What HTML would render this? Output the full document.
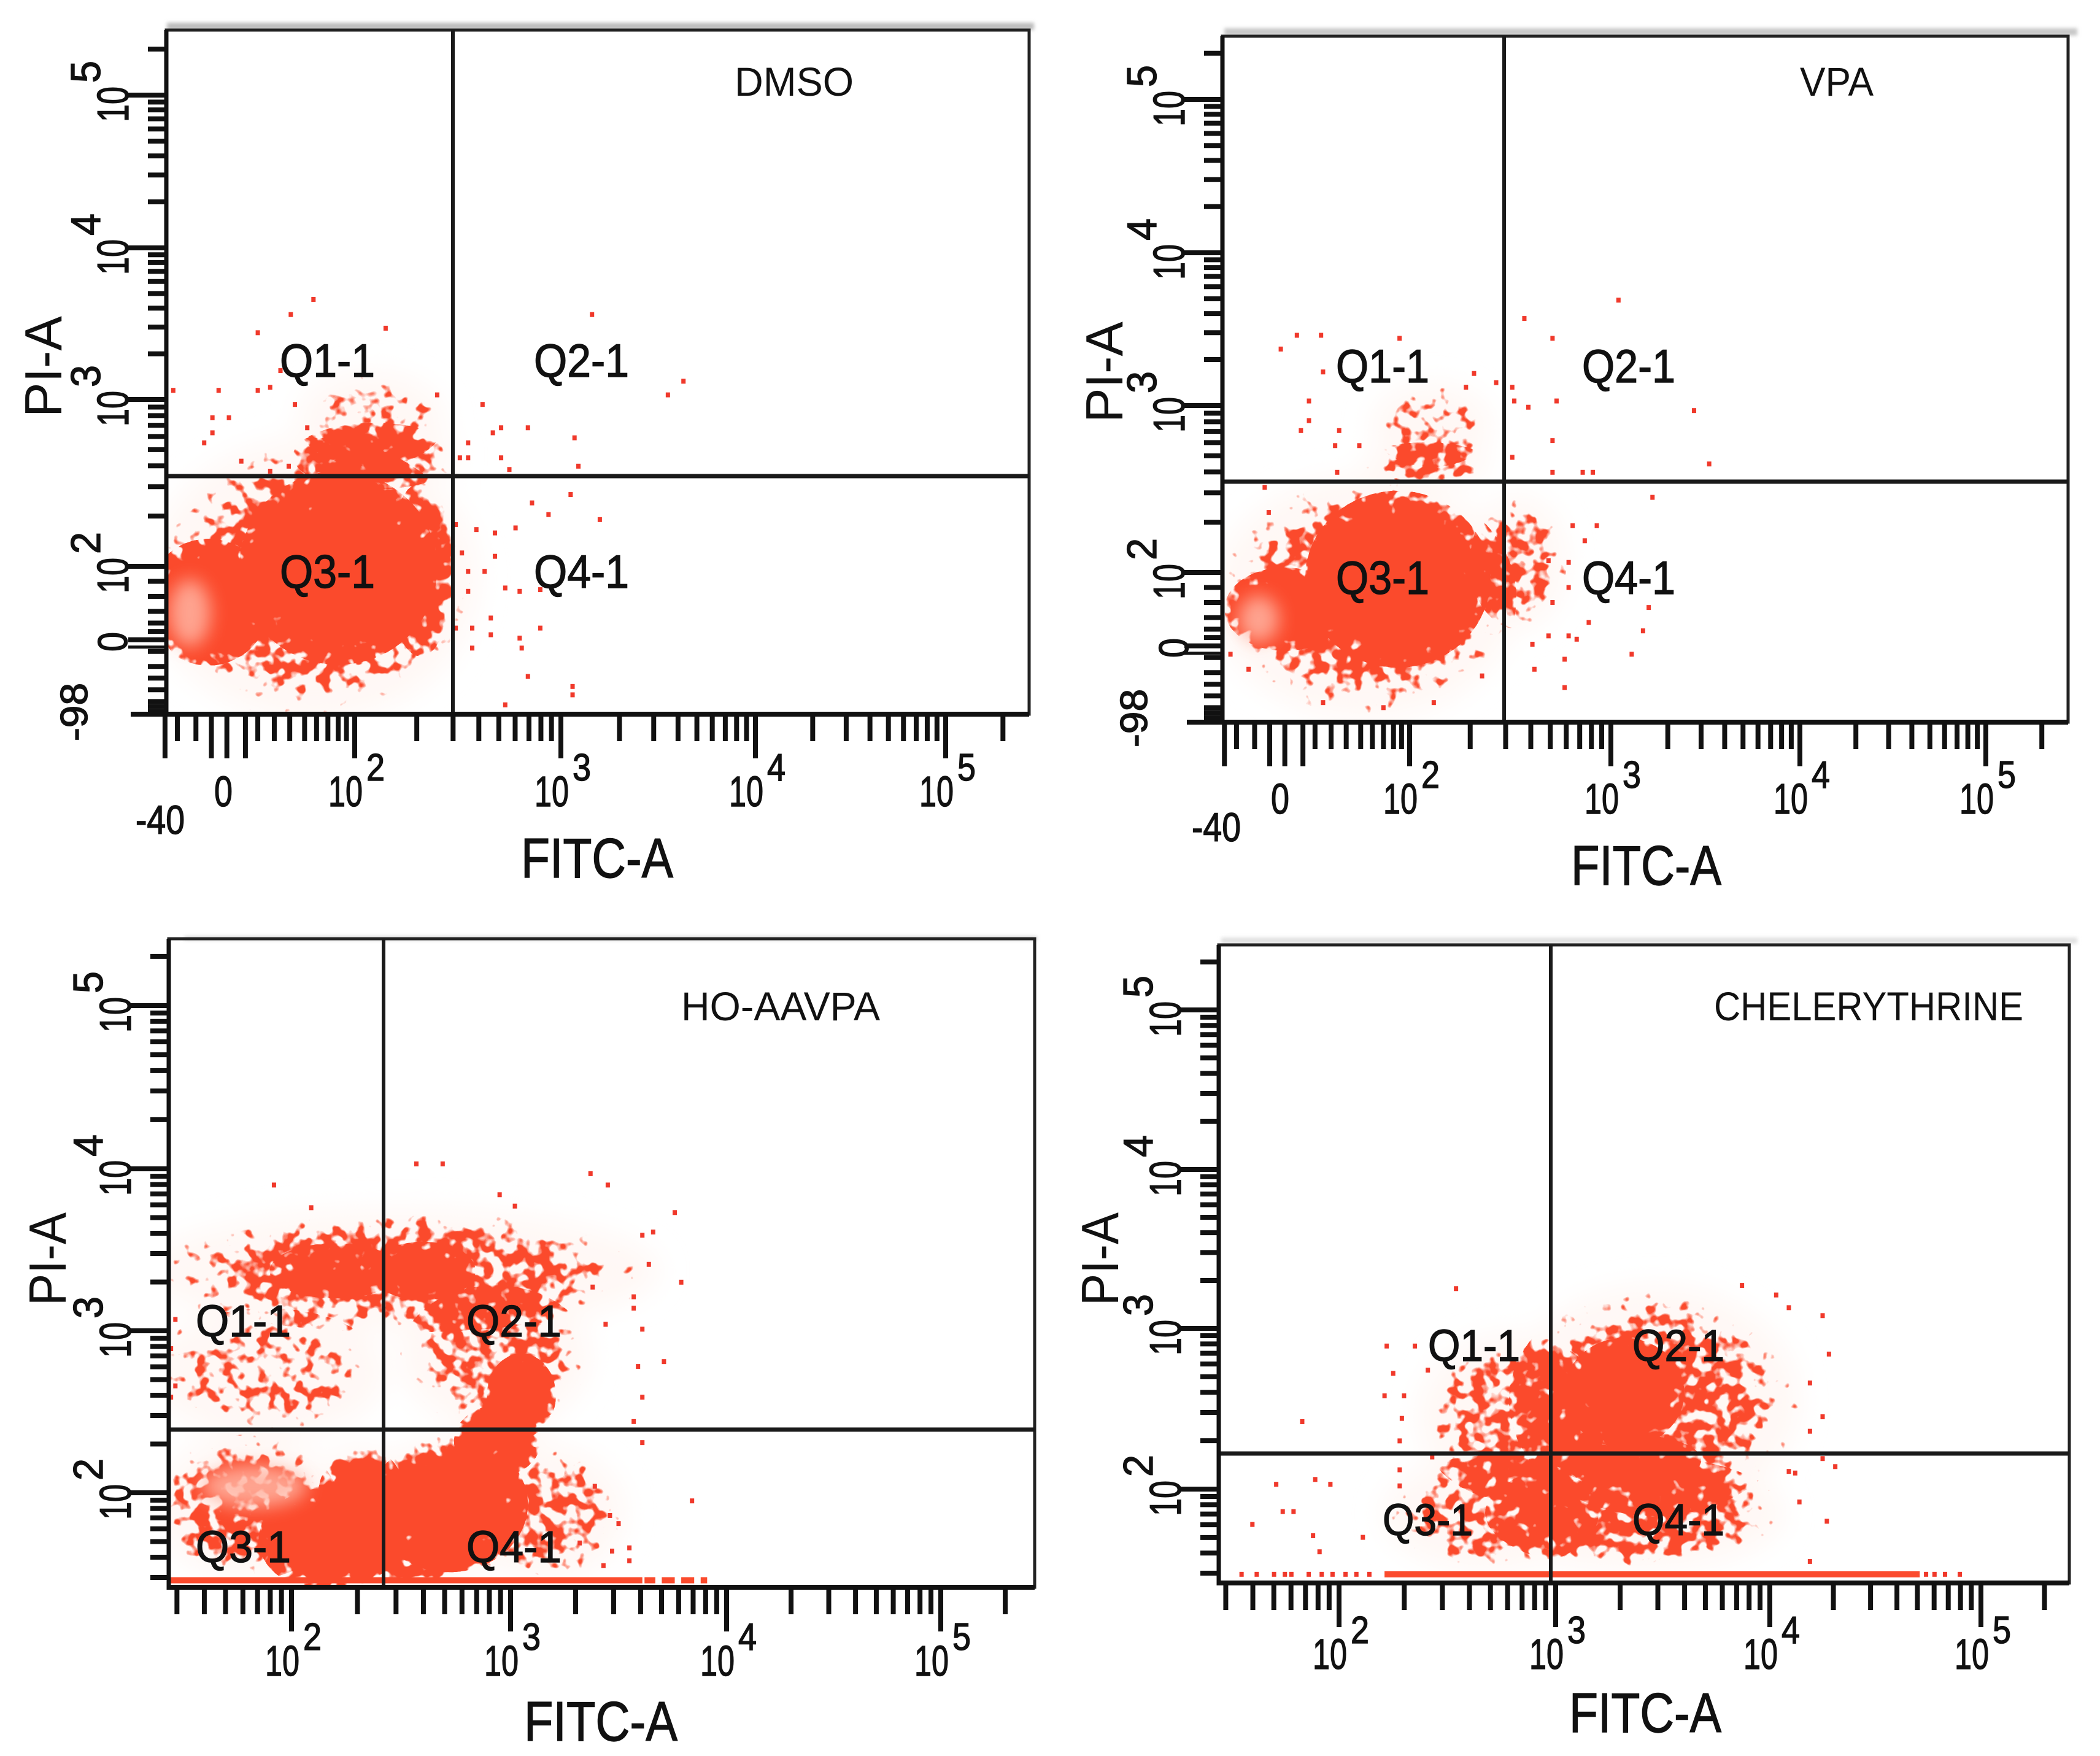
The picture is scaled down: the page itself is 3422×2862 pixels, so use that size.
<!DOCTYPE html>
<html lang="en">
<head>
<meta charset="utf-8">
<title>Flow cytometry Annexin V-FITC / PI dot plots</title>
<style>
html,body{margin:0;padding:0;background:#fff;}
svg{display:block;}
text{font-family:"Liberation Sans",sans-serif;fill:#111;}
.heavy{stroke:#111;stroke-width:1.4px;}
</style>
</head>
<body>
<svg xmlns="http://www.w3.org/2000/svg" width="3422" height="2862" viewBox="0 0 3422 2862">
<defs>
  <radialGradient id="densityFill"><stop offset="0" stop-color="#000" stop-opacity="1"/><stop offset=".6" stop-color="#000" stop-opacity="1"/><stop offset="1" stop-color="#000" stop-opacity=".35"/></radialGradient>
  <filter id="speckle" filterUnits="userSpaceOnUse" x="0" y="0" width="3422" height="2862" color-interpolation-filters="sRGB">
    <feTurbulence type="fractalNoise" baseFrequency="0.05" numOctaves="2" seed="7" result="noise"/>
    <feColorMatrix in="noise" type="matrix" values="0 0 0 0 0  0 0 0 0 0  0 0 0 0 0  1 0 0 0 0" result="noiseAlpha"/>
    <feComposite in="SourceAlpha" in2="noiseAlpha" operator="arithmetic" k1="0" k2="0.6" k3="0.6" k4="0" result="sum"/>
    <feComponentTransfer in="sum" result="mask"><feFuncA type="linear" slope="14" intercept="-8.3"/></feComponentTransfer>
    <feFlood flood-color="#fb4a2c"/>
    <feComposite in2="mask" operator="in"/>
  </filter>
  <filter id="softPatch" filterUnits="userSpaceOnUse" x="0" y="0" width="3422" height="2862"><feGaussianBlur stdDeviation="14"/></filter>
  <filter id="hazeBlur" filterUnits="userSpaceOnUse" x="0" y="0" width="3422" height="2862"><feGaussianBlur stdDeviation="22"/></filter>
  <filter id="bandBlur" filterUnits="userSpaceOnUse" x="0" y="0" width="3422" height="2862"><feGaussianBlur stdDeviation="3"/></filter>
</defs>

<g id="panel-dmso"></g>
<g id="panel-vpa"></g>
<g id="panel-ho"></g>
<g id="panel-che"></g>

<!-- panel titles -->
<text x="1197" y="156" font-size="66" textLength="194" lengthAdjust="spacingAndGlyphs">DMSO</text>
<text x="2933" y="156" font-size="66" textLength="120" lengthAdjust="spacingAndGlyphs">VPA</text>
<text x="1110" y="1663" font-size="66" textLength="324" lengthAdjust="spacingAndGlyphs">HO-AAVPA</text>
<text x="2793" y="1663" font-size="66" textLength="504" lengthAdjust="spacingAndGlyphs">CHELERYTHRINE</text>

<!-- quadrant labels -->
<g font-size="76" class="heavy">
<text x="456" y="614" textLength="155" lengthAdjust="spacingAndGlyphs">Q1-1</text>
<text x="870" y="614" textLength="155" lengthAdjust="spacingAndGlyphs">Q2-1</text>
<text x="456" y="958" textLength="155" lengthAdjust="spacingAndGlyphs">Q3-1</text>
<text x="870" y="958" textLength="155" lengthAdjust="spacingAndGlyphs">Q4-1</text>
</g>
<g font-size="76" class="heavy">
<text x="2177" y="623" textLength="152" lengthAdjust="spacingAndGlyphs">Q1-1</text>
<text x="2578" y="623" textLength="152" lengthAdjust="spacingAndGlyphs">Q2-1</text>
<text x="2177" y="968" textLength="152" lengthAdjust="spacingAndGlyphs">Q3-1</text>
<text x="2578" y="968" textLength="152" lengthAdjust="spacingAndGlyphs">Q4-1</text>
</g>
<g font-size="72" class="heavy">
<text x="319" y="2178" textLength="155" lengthAdjust="spacingAndGlyphs">Q1-1</text>
<text x="760" y="2178" textLength="155" lengthAdjust="spacingAndGlyphs">Q2-1</text>
<text x="319" y="2546" textLength="155" lengthAdjust="spacingAndGlyphs">Q3-1</text>
<text x="760" y="2546" textLength="155" lengthAdjust="spacingAndGlyphs">Q4-1</text>
</g>
<g font-size="72" class="heavy">
<text x="2327" y="2218" textLength="150" lengthAdjust="spacingAndGlyphs">Q1-1</text>
<text x="2660" y="2218" textLength="150" lengthAdjust="spacingAndGlyphs">Q2-1</text>
<text x="2253" y="2502" textLength="147" lengthAdjust="spacingAndGlyphs">Q3-1</text>
<text x="2660" y="2502" textLength="150" lengthAdjust="spacingAndGlyphs">Q4-1</text>
</g>

<!-- axis titles -->
<g font-size="91" class="heavy">
<text x="849" y="1430" textLength="248" lengthAdjust="spacingAndGlyphs">FITC-A</text>
<text x="2560" y="1442" textLength="245" lengthAdjust="spacingAndGlyphs">FITC-A</text>
<text x="854" y="2837" textLength="250" lengthAdjust="spacingAndGlyphs">FITC-A</text>
<text x="2557" y="2823" textLength="248" lengthAdjust="spacingAndGlyphs">FITC-A</text>
</g>
<g font-size="85">
<text transform="translate(100,680) rotate(-90)" textLength="165" lengthAdjust="spacingAndGlyphs">PI-A</text>
<text transform="translate(1829,689) rotate(-90)" textLength="165" lengthAdjust="spacingAndGlyphs">PI-A</text>
<text transform="translate(107,2128) rotate(-90)" textLength="152" lengthAdjust="spacingAndGlyphs">PI-A</text>
<text transform="translate(1822,2128) rotate(-90)" textLength="152" lengthAdjust="spacingAndGlyphs">PI-A</text>
</g>

<!-- biexponential low-end labels -->
<g class="heavy">
<text transform="translate(142,1208) rotate(-90)" font-size="62" textLength="95" lengthAdjust="spacingAndGlyphs">-98</text>
<text x="221" y="1359" font-size="66" textLength="80" lengthAdjust="spacingAndGlyphs">-40</text>
<text x="349" y="1314" font-size="70" textLength="30" lengthAdjust="spacingAndGlyphs">0</text>
<text transform="translate(207,1062) rotate(-90)" font-size="68" textLength="32" lengthAdjust="spacingAndGlyphs">0</text>
<text transform="translate(1869,1218) rotate(-90)" font-size="62" textLength="95" lengthAdjust="spacingAndGlyphs">-98</text>
<text x="1942" y="1371" font-size="66" textLength="80" lengthAdjust="spacingAndGlyphs">-40</text>
<text x="2071" y="1326" font-size="70" textLength="30" lengthAdjust="spacingAndGlyphs">0</text>
<text transform="translate(1936,1072) rotate(-90)" font-size="68" textLength="32" lengthAdjust="spacingAndGlyphs">0</text>
</g>

<script>
// ---- shared axis values (in log10 display units) ----
const logMultiples = [1, 2, 3, 4, 5, 6, 7, 8, 9];
const xDecadeLabels = ['10', '10', '10', '10'];
const xDecadeExponents = ['2', '3', '4', '5'];
const yDecadeLabels = ['10', '10', '10', '10'];
const yDecadeExponents = ['2', '3', '4', '5'];
const biexXTicks = [1.08, 1.14, 1.23, 1.305, 1.38, 1.47, 1.53, 1.61, 1.685, 1.757, 1.815, 1.87, 1.92, 1.96];
const biexXLongTicks = [1.08, 1.305, 1.38, 1.47];
const biexYTicks = [1.91, 1.82, 1.73, 1.66, 1.61, 1.56, 1.49, 1.40, 1.33, 1.26, 1.19, 1.16, 1.13];

// population density regions: x decade, y decade, x spread, y spread, density level
// ---- DMSO ----
const dmsoDensity = [[1.80, 1.92, 0.80, 0.85, 0.6], [2.08, 2.88, 0.36, 0.30, 0.47], [2.10, 2.66, 0.40, 0.20, 0.6], [2.32, 1.98, 0.16, 0.52, 0.6], [1.92, 1.99, 0.48, 0.58, 1], [1.29, 1.785, 0.30, 0.38, 1]];
const dmsoPale = [[1.2, 1.72, 0.10, 0.2]];
const dmsoPoints = [[1.80,3.66],[1.69,3.56],[1.53,3.44],[2.15,3.47],[3.16,3.56],[3.63,3.12],[3.55,3.03],[2.62,2.97],[2.71,2.83],[2.67,2.80],[2.84,2.83],[3.07,2.77],[2.55,2.74],[2.51,2.65],[2.55,2.65],[2.71,2.65],[2.75,2.58],[3.09,2.60],[3.05,2.43],[2.86,2.38],[2.94,2.31],[3.20,2.28],[2.78,2.23],[2.68,2.20],[2.59,2.22],[2.49,2.25],[2.68,2.06],[2.63,1.97],[2.55,1.97],[2.52,2.08],[2.55,1.85],[2.73,1.87],[2.80,1.85],[2.90,1.86],[2.66,1.69],[2.57,1.63],[2.49,1.63],[2.66,1.59],[2.90,1.63],[2.80,1.57],[2.81,1.51],[2.57,1.51],[2.84,1.34],[3.06,1.28],[3.06,1.23],[2.73,1.17],[1.12,3.06],[1.34,3.06],[1.53,3.06],[1.31,2.89],[1.39,2.89],[1.31,2.80],[1.27,2.74],[1.45,2.63],[1.59,3.08],[1.64,3.19],[1.71,2.97],[1.77,2.83],[1.59,2.57],[1.68,2.60],[2.40,3.03]];
const dmsoFloor = [];

// ---- VPA ----
const vpaDensity = [[1.78, 1.85, 0.75, 0.73, 0.6], [2.54, 2.06, 0.24, 0.40, 0.55], [2.11, 2.88, 0.30, 0.26, 0.47], [2.08, 2.65, 0.32, 0.13, 0.56], [1.94, 1.96, 0.46, 0.53, 1], [1.38, 1.78, 0.30, 0.25, 0.85]];
const vpaPale = [[1.25, 1.72, 0.10, 0.14]];
const vpaPoints = [[3.04,3.69],[2.57,3.57],[2.71,3.44],[1.44,3.46],[1.56,3.46],[1.36,3.37],[1.95,3.44],[1.57,3.22],[2.32,3.21],[2.28,3.12],[2.43,3.15],[2.51,3.12],[2.52,3.03],[2.59,2.99],[2.73,3.03],[1.50,3.03],[3.44,2.97],[1.50,2.91],[1.46,2.85],[1.65,2.85],[2.71,2.79],[1.63,2.76],[1.75,2.76],[3.52,2.65],[2.51,2.69],[2.71,2.60],[2.86,2.60],[2.91,2.60],[1.64,2.60],[3.22,2.45],[2.93,2.28],[2.81,2.28],[2.87,2.19],[2.69,2.07],[2.79,2.06],[2.79,1.91],[3.20,1.79],[2.71,1.82],[2.89,1.70],[3.17,1.65],[2.69,1.62],[2.79,1.62],[2.83,1.60],[2.61,1.57],[3.11,1.51],[2.77,1.48],[2.62,1.42],[2.77,1.31],[2.12,1.22],[1.57,1.22],[1.87,1.19],[1.20,1.42],[1.11,1.51],[1.28,2.51],[1.30,2.36],[2.36,1.38]];
const vpaFloor = [];

// ---- HO-AAVPA ----
const hoDensity = [[2.5, 3.37, 1.19, 0.38, 0.58], [1.89, 2.74, 0.54, 0.40, 0.48], [2.93, 2.84, 0.44, 0.44, 0.56], [1.8, 1.91, 0.42, 0.45, 0.62], [3.17, 1.87, 0.36, 0.42, 0.55], [2.56, 1.61, 0.38, 0.17, 0.7], [2.2, 3.37, 0.30, 0.17, 0.6], [2.6, 3.37, 0.24, 0.18, 0.78], [3.05, 2.6, 0.16, 0.26, 0.82], [2.94, 2.32, 0.20, 0.22, 0.95], [2.32, 1.97, 0.20, 0.32, 0.9], [2.17, 1.71, 0.32, 0.32, 1], [2.72, 1.93, 0.36, 0.42, 1]];
const hoPale = [[1.83, 2.04, 0.24, 0.13]];
const hoPoints = [[1.92,3.90],[2.57,4.03],[2.69,4.03],[3.37,3.97],[3.45,3.90],[3.76,3.73],[2.09,3.76],[2.95,3.84],[3.02,3.77],[3.66,3.61],[3.61,3.59],[3.79,3.30],[3.64,3.41],[3.57,3.21],[3.61,3.01],[3.71,2.81],[3.59,2.78],[3.61,2.59],[3.57,2.44],[3.61,2.31],[3.84,1.95],[3.55,1.66],[3.47,1.64],[3.55,1.58],[3.43,1.55],[3.38,3.27],[3.44,3.04],[3.57,3.14],[3.50,1.81],[3.46,1.86],[3.32,1.69],[3.39,2.04],[1.45,2.59],[1.47,2.66],[1.47,3.07],[1.45,2.89]];
const hoFloor = [[1.44, 3.61, 1.46], [3.62, 3.67, 1.46], [3.70, 3.76, 1.46], [3.79, 3.85, 1.46], [3.88, 3.91, 1.46]];

// ---- Chelerythrine ----
const cheDensity = [[3.46, 2.55, 0.68, 0.72, 0.6], [2.8, 2.45, 0.44, 0.52, 0.55], [3.37, 1.85, 0.70, 0.36, 0.62], [2.7, 1.85, 0.50, 0.36, 0.54], [3.34, 2.18, 0.34, 0.16, 0.62], [3.32, 2.6, 0.28, 0.34, 0.88]];
const chePale = [];
const chePoints = [[2.54,3.25],[2.22,2.89],[2.35,2.89],[2.41,2.74],[2.25,2.72],[2.21,2.58],[2.30,2.58],[2.29,2.44],[2.28,2.30],[1.83,2.42],[1.71,2.03],[1.89,2.06],[1.96,2.03],[1.60,1.78],[1.74,1.86],[1.79,1.86],[1.88,1.71],[1.91,1.61],[2.11,1.70],[4.25,3.08],[4.09,3.13],[4.03,3.21],[3.87,3.27],[4.28,2.84],[4.19,2.66],[4.25,2.45],[4.19,2.36],[4.25,2.19],[4.31,2.14],[4.27,1.80],[4.14,1.92],[4.19,1.55],[4.09,2.11],[4.12,2.10],[2.28,2.12],[2.43,2.20],[2.28,2.02],[1.55,1.47],[1.62,1.47],[1.70,1.47],[1.75,1.47],[1.78,1.47],[1.86,1.47],[1.92,1.47],[1.97,1.47],[2.03,1.47],[2.08,1.47],[2.14,1.47],[4.74,1.47],[4.78,1.47],[4.83,1.47],[4.90,1.47]];
const cheFloor = [[2.21, 4.71, 1.47]];

// ---- layout of each plot frame (pixels) ----
const SVGNS = 'http://www.w3.org/2000/svg';
const frames = [
  {id:'panel-dmso', key:'dmso', left:271, right:1677, top:49, bottom:1164, gateX:738, gateY:776, xA:[578,914,1231,1541], yA:[923,651,404,155], biex:true, labelDrop:150, band:[272,1685,37,12,'#bdbdbd'], baseExtend:58,
   density:dmsoDensity, pale:dmsoPale, pts:dmsoPoints, floor:dmsoFloor},
  {id:'panel-vpa', key:'vpa', left:1992, right:3370, top:59, bottom:1177, gateX:2451, gateY:785, xA:[2297,2625,2933,3236], yA:[933,661,412,162], biex:true, labelDrop:149, band:[1995,3385,46,12,'#c8c8c8'], baseExtend:58,
   density:vpaDensity, pale:vpaPale, pts:vpaPoints, floor:vpaFloor},
  {id:'panel-ho', key:'ho', left:275, right:1686, top:1530, bottom:2587, gateX:625, gateY:2330, xA:[475,832,1184,1533], yA:[2433,2169,1905,1639], biex:false, labelDrop:144, band:[300,1690,1526,6,'#d2d2d2'], baseExtend:0,
   density:hoDensity, pale:hoPale, pts:hoPoints, floor:hoFloor},
  {id:'panel-che', key:'che', left:1986, right:3372, top:1540, bottom:2580, gateX:2527, gateY:2369, xA:[2182,2535,2884,3228], yA:[2427,2165,1906,1646], biex:false, labelDrop:140, band:[1990,3385,1528,10,'#e0e0e0'], baseExtend:0,
   density:cheDensity, pale:chePale, pts:chePoints, floor:cheFloor}
];

function axisMap(anchors, d) {
  const i = Math.max(0, Math.min(2, Math.floor(d) - 2));
  return anchors[i] + (d - (i + 2)) * (anchors[i + 1] - anchors[i]);
}
function mk(tag, parent) {
  const el = document.createElementNS(SVGNS, tag);
  parent.appendChild(el);
  return el;
}
function blob(parent, f, b, fill) {
  const cx = axisMap(f.xA, b[0]);
  const cy = axisMap(f.yA, b[1]);
  const el = mk('ellipse', parent);
  el.setAttribute('cx', cx);
  el.setAttribute('cy', cy);
  el.setAttribute('rx', Math.abs(axisMap(f.xA, b[0] + b[2]) - cx));
  el.setAttribute('ry', Math.abs(axisMap(f.yA, b[1] + b[3]) - cy));
  el.setAttribute('fill', fill);
  return el;
}
function line(parent, x1, y1, x2, y2, w, color) {
  const el = mk('line', parent);
  el.setAttribute('x1', x1);
  el.setAttribute('y1', y1);
  el.setAttribute('x2', x2);
  el.setAttribute('y2', y2);
  el.setAttribute('stroke', color || '#111');
  el.setAttribute('stroke-width', w);
  return el;
}
function label(parent, str, x, y, size, len, rotated) {
  const el = mk('text', parent);
  el.textContent = str;
  el.setAttribute('class', 'heavy');
  el.setAttribute('font-size', size);
  el.setAttribute('textLength', len);
  el.setAttribute('lengthAdjust', 'spacingAndGlyphs');
  if (rotated) {
    el.setAttribute('transform', 'translate(' + x + ',' + y + ') rotate(-90)');
  } else {
    el.setAttribute('x', x);
    el.setAttribute('y', y);
  }
  return el;
}

frames.forEach(function (f) {
  const g = document.getElementById(f.id);
  const w = f.right - f.left;
  const h = f.bottom - f.top;

  // top shadow band of the scanned image
  const band = mk('rect', g);
  
  
  band.setAttribute('x', f.band[0]);
  band.setAttribute('y', f.band[2]);
  band.setAttribute('width', f.band[1] - f.band[0]);
  band.setAttribute('height', f.band[3]);
  band.setAttribute('fill', f.band[4]);
  band.setAttribute('filter', 'url(#bandBlur)');

  const clip = mk('clipPath', g);
  clip.setAttribute('id', 'clip-' + f.key);
  const cr = mk('rect', clip);
  cr.setAttribute('x', f.left);
  cr.setAttribute('y', f.top);
  cr.setAttribute('width', w);
  cr.setAttribute('height', h);

  const marks = mk('g', g);
  
  
  marks.setAttribute('clip-path', 'url(#clip-' + f.key + ')');

  // pale halo around the populations
  const haze = mk('g', marks);
  
  
  haze.setAttribute('filter', 'url(#hazeBlur)');
  f.density.forEach(function (b) {
    const e = blob(haze, f, b, '#fff8f5');
    
    
  });

  // thresholded density: dense cores and speckled fringe
  const dens = mk('g', marks);
  
  
  dens.setAttribute('filter', 'url(#speckle)');
  f.density.forEach(function (b) {
    const e = blob(dens, f, b, 'url(#densityFill)');
    e.setAttribute('fill-opacity', b[4]);
    
    
  });

  f.pale.forEach(function (b) {
    const e = blob(marks, f, b, '#ffb3a1');
    e.setAttribute('opacity', '0.85');
    
    
    e.setAttribute('filter', 'url(#softPatch)');
  });

  // individual events
  f.pts.forEach(function (p) {
    const r = mk('rect', marks);
    
    
    r.setAttribute('x', axisMap(f.xA, p[0]) - 3.5);
    r.setAttribute('y', axisMap(f.yA, p[1]) - 4);
    r.setAttribute('width', 7);
    r.setAttribute('height', 8);
    r.setAttribute('fill', '#f0392b');
  });

  // events piled up on the axis floor
  f.floor.forEach(function (s) {
    const x0 = axisMap(f.xA, s[0]);
    const r = mk('rect', marks);
    
    
    r.setAttribute('x', x0);
    r.setAttribute('y', axisMap(f.yA, s[2]) - 5);
    r.setAttribute('width', axisMap(f.xA, s[1]) - x0);
    r.setAttribute('height', 10);
    r.setAttribute('fill', '#fb4a2c');
  });

  // plot frame and gates
  const box = mk('rect', g);
  
  
  box.setAttribute('x', f.left);
  box.setAttribute('y', f.top);
  box.setAttribute('width', w);
  box.setAttribute('height', h);
  box.setAttribute('fill', 'none');
  box.setAttribute('stroke', '#222');
  box.setAttribute('stroke-width', 5);

  const gv = line(g, f.gateX, f.top, f.gateX, f.bottom, 6, '#1a1a1a');
  
  
  const gh = line(g, f.left, f.gateY, f.right, f.gateY, 7, '#1a1a1a');
  
  

  // axis baselines
  const bx = line(g, f.left - f.baseExtend, f.bottom, f.right, f.bottom, 8);
  
  
  const by = line(g, f.left, f.top, f.left, f.bottom + 4, 7);
  
  

  // decade ticks
  const ticks = mk('g', g);
  
  
  function xTick(px, long) {
    const t = line(ticks, px, f.bottom, px, f.bottom + (long ? 72 : 44), 8);
    
    
  }
  function yTick(py, long) {
    const t = line(ticks, f.left, py, f.left - (long ? 62 : 30), py, 8);
    
    
  }
  for (let d = 1; d <= 5; d++) {
    logMultiples.forEach(function (m) {
      if (d === 5 && m > 2) return;
      if (d === 1 && (f.biex || m < 3)) return;
      const v = d + Math.log10(m);
      const inXRange = axisMap(f.xA, v) > f.left;
      if (inXRange) xTick(axisMap(f.xA, v), m === 1);
      const py = axisMap(f.yA, v);
      if (py < f.bottom - 10) yTick(py, m === 1);
    });
  }
  if (f.biex) {
    biexXTicks.forEach(function (v) {
      xTick(axisMap(f.xA, v), biexXLongTicks.indexOf(v) >= 0);
    });
    biexYTicks.forEach(function (v) {
      yTick(axisMap(f.yA, v), v === 1.56);
    });
    const py0 = axisMap(f.yA, 1.56);
    const z = line(ticks, f.left - 62, py0 + 12, f.left, py0 + 12, 5);
    
    
  }

  // decade labels
  xDecadeLabels.forEach(function (txt, i) {
    const px = f.xA[i];
    const a = label(g, txt, px - 43, f.bottom + f.labelDrop, 70, 56, false);
    
    
    const b = label(g, xDecadeExponents[i], px + 19, f.bottom + f.labelDrop - 42, 62, 30, false);
    
    
  });
  yDecadeLabels.forEach(function (txt, i) {
    const py = f.yA[i];
    const a = label(g, txt, f.left - 62, py + 44, 72, 58, true);
    
    
    const b = label(g, yDecadeExponents[i], f.left - 108, py - 20, 68, 36, true);
    
    
  });
});
// keep text layers above generated marks
const svgRoot = document.querySelector('svg');
document.querySelectorAll('svg > text, svg > g:not([id])').forEach(function (n) { svgRoot.appendChild(n); });
</script>
</svg>
</body>
</html>
